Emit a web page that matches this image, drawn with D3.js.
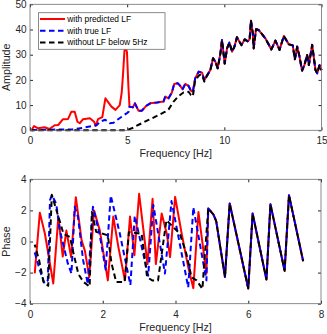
<!DOCTYPE html>
<html>
<head>
<meta charset="utf-8">
<script src="https://cdn.jsdelivr.net/npm/d3@7.9.0/dist/d3.min.js"></script>
<style>
  body { margin: 0; background: #fff; }
  svg { display: block; font-family: "Liberation Sans", Arial, sans-serif; }
  .tick text { fill: #262626; font-size: 10px; }
  .tick line { stroke: #262626; }
</style>
</head>
<body>
<svg id="chart" width="327" height="334"></svg>
<script>
// ---- amplitude spectrum (top) ----
const commonF = [9.1, 9.28, 9.42, 9.54, 9.66, 9.8, 9.88, 10.02, 10.14, 10.26, 10.4, 10.52, 10.65, 10.88, 11.05, 11.2, 11.3, 11.37, 11.46, 11.51, 11.63, 11.77, 12.11, 12.42, 12.63, 12.84, 13.06, 13.32, 13.52, 13.63, 13.75, 13.87, 14.0, 14.12, 14.26, 14.35, 14.52, 14.69, 14.78, 14.9, 15.0];
const commonA = [21.6, 23.9, 28.6, 27.2, 24.6, 30.6, 35.8, 26.5, 32.5, 34.8, 31.2, 33.2, 36.9, 33.8, 36.1, 35.3, 36.1, 43.5, 38.8, 32.5, 40.1, 39.8, 36.5, 32.1, 35.6, 31.9, 37.4, 34.1, 33.7, 28.2, 33.2, 29.2, 23.7, 25.9, 29.9, 25.9, 33.9, 23.9, 22.6, 25.9, 23.9];

const predF = [0.09, 0.21, 0.41, 0.75, 1.0, 1.27, 1.45, 1.7, 1.96, 2.13, 2.3, 2.44, 2.56, 2.73, 3.08, 3.3, 3.38, 3.5, 3.72, 3.88, 4.19, 4.4, 4.62, 4.72, 4.79, 4.86, 4.92, 4.99, 5.06, 5.12, 5.29, 5.4, 5.58, 5.76, 5.98, 6.19, 6.53, 6.87, 6.96, 7.13, 7.3, 7.42, 7.6, 7.73, 7.85, 7.99, 8.16, 8.28, 8.38, 8.5, 8.68, 8.85, 8.97];
const predA = [0.2, 1.7, 0.8, 1.2, 0.5, 2.0, 2.1, 4.4, 4.5, 7.4, 7.4, 3.4, 2.8, 4.4, 4.8, 3.4, 1.7, 4.4, 5.2, 12.7, 9.4, 8.1, 10.0, 15.0, 22.6, 31.5, 33.0, 31.0, 18.0, 9.4, 9.1, 10.7, 7.8, 7.8, 9.7, 10.7, 11.0, 11.4, 13.4, 12.7, 15.0, 18.4, 18.7, 17.6, 16.3, 18.4, 17.6, 15.7, 15.3, 20.6, 23.3, 22.9, 20.0];

const trueLowF = [0.09, 2.2, 2.75, 3.18, 3.44, 3.6, 3.87, 4.1, 4.3, 4.5, 4.72, 4.97, 5.07];
const trueLowA = [0.1, 0.4, 1.0, 1.7, 2.1, 3.4, 4.2, 2.8, 3.0, 4.2, 5.4, 6.7, 7.3];

const noLfF = [0.09, 4.95, 5.24, 5.67, 6.1, 6.53, 6.96, 7.13, 7.39, 7.65, 7.9, 8.16, 8.28, 8.38, 8.5, 8.73, 8.85, 8.97];
const noLfA = [0, 0, 0.8, 2.5, 4.1, 5.7, 7.4, 8.3, 11.4, 13.6, 15.0, 15.3, 14.0, 13.4, 20.0, 22.0, 22.0, 19.3];

// ---- phase (bottom) ----
const tailF = [4.9, 5.04, 5.12, 5.36, 5.49, 6.0, 6.12, 6.5, 6.61, 7.0, 7.12, 7.51];
const tailP = [2.12, 1.75, 1.3, -2.28, 2.44, -3.02, 1.8, -2.45, 2.4, -1.89, 2.98, -1.27];

const phRedF = [0.13, 0.27, 0.41, 0.64, 0.78, 0.9, 1.0, 1.13, 1.26, 1.42, 1.51, 1.63, 1.76, 1.92, 2.14, 2.29, 2.43, 2.61, 2.75, 2.87, 3.0, 3.23, 3.37, 3.46, 3.62, 3.76, 3.85, 3.99, 4.17, 4.35, 4.49, 4.63, 4.85];
const phRed = [-2.05, 1.85, 0.5, -2.7, 1.6, -0.97, 0.7, -1.0, 2.85, 0.06, -0.6, -2.3, 2.0, 0.7, -2.5, 1.6, -0.36, -2.5, 1.6, -0.88, 3.07, -1.45, 2.75, -1.45, 1.8, 0.5, -1.0, 2.87, 0.5, -1.65, -3.0, 1.9, -2.06];

const phTrueF = [0.13, 0.27, 0.4, 0.49, 0.55, 0.6, 0.72, 0.82, 1.04, 1.14, 1.23, 1.32, 1.46, 1.59, 1.73, 1.91, 2.08, 2.22, 2.47, 2.76, 2.88, 3.25, 3.39, 3.71, 3.89, 4.35, 4.49, 4.85];
const phTrue = [-0.7, -1.85, -2.7, -2.5, 2.66, 2.98, 2.44, 0.73, -1.41, -2.06, 2.23, 1.58, -1.2, -2.75, 2.23, 0.51, -1.8, 2.96, 0.5, -2.8, 1.65, -2.2, 2.35, -2.06, 2.6, -2.95, 2.2, -2.5];

const phNoLfF = [0.13, 0.25, 0.37, 0.5, 0.6, 0.78, 0.92, 1.1, 1.2, 1.33, 1.47, 1.64, 1.7, 1.82, 2.14, 2.24, 2.37, 2.6, 2.72, 3.07, 3.22, 3.36, 3.52, 3.75, 4.12, 4.3, 4.44, 4.58, 4.74];
const phNoLf = [-0.2, -1.2, -2.6, -2.85, 3.0, 1.6, 0.5, 0.28, -0.8, -2.1, -2.6, -2.9, 1.9, 0.62, 0.4, -1.4, -2.6, -2.6, 0.6, 0.5, -2.3, -2.5, -2.5, 1.37, 0.5, -0.8, -2.3, -2.5, -3.05];

const legendLabels = ['with predicted LF', 'with true LF', 'without LF below 5Hz'];
const colors = ['#ff0000', '#0000ff', '#000000'];
const dashes = [null, '5.5,3.5', '5.5,3.5'];

const svg = d3.select('#chart');

const zip = (fs, vs) => fs.map((f, i) => [f, vs[i]]);

function drawPanel(cfg) {
  const x = d3.scaleLinear().domain(cfg.xDomain).range([cfg.left, cfg.right]);
  const y = d3.scaleLinear().domain(cfg.yDomain).range([cfg.bottom, cfg.top]);
  const g = svg.append('g');

  g.append('rect')
    .attr('x', cfg.left).attr('y', cfg.top)
    .attr('width', cfg.right - cfg.left).attr('height', cfg.bottom - cfg.top)
    .attr('fill', '#fff');

  const line = d3.line().x(d => x(d[0])).y(d => y(d[1]));

  cfg.series.forEach((s, i) => {
    g.append('path')
      .attr('d', line(s))
      .attr('fill', 'none')
      .attr('stroke', colors[i])
      .attr('stroke-width', 2)
      .attr('stroke-linejoin', 'round')
      .attr('stroke-dasharray', dashes[i])
      .attr('stroke-dashoffset', i === 2 ? 2.5 : 0);
  });

  // axes, ticks pointing inward on all four sides
  const ax = (gen, tx, ty, labels) => {
    const a = g.append('g').attr('transform', `translate(${tx},${ty})`).call(gen);
    a.select('.domain').remove();
    if (!labels) a.selectAll('text').remove();
    return a;
  };
  ax(d3.axisBottom(x).tickValues(cfg.xTicks).tickSize(-3).tickSizeOuter(0).tickPadding(7), 0, cfg.bottom, true);
  ax(d3.axisTop(x).tickValues(cfg.xTicks).tickSize(-3).tickSizeOuter(0), 0, cfg.top, false);
  ax(d3.axisLeft(y).tickValues(cfg.yTicks).tickSize(-3).tickSizeOuter(0).tickPadding(3.5), cfg.left, 0, true);
  ax(d3.axisRight(y).tickValues(cfg.yTicks).tickSize(-3).tickSizeOuter(0), cfg.right, 0, false);

  g.append('rect')
    .attr('x', cfg.left).attr('y', cfg.top)
    .attr('width', cfg.right - cfg.left).attr('height', cfg.bottom - cfg.top)
    .attr('fill', 'none').attr('stroke', '#6e6e6e').attr('stroke-width', 0.8);

  g.append('text')
    .attr('x', (cfg.left + cfg.right) / 2).attr('y', cfg.bottom + 27)
    .attr('text-anchor', 'middle').attr('font-size', 10.7).attr('fill', '#262626')
    .text(cfg.xLabel);
  g.append('text')
    .attr('transform', `translate(10,${(cfg.top + cfg.bottom) / 2}) rotate(-90)`)
    .attr('text-anchor', 'middle').attr('font-size', 10.7).attr('fill', '#262626')
    .text(cfg.yLabel);
  return { g, x, y };
}

const predSeries = zip(predF, predA).concat(zip(commonF, commonA));
const trueSeries = zip(trueLowF, trueLowA)
  .concat(zip(predF, predA).filter(d => d[0] >= 5.12))
  .concat(zip(commonF, commonA));
const noLfSeries = zip(noLfF, noLfA).concat(zip(commonF, commonA));

const ampPanel = drawPanel({
  left: 30, right: 321.5, top: 4.3, bottom: 130.3,
  xDomain: [0, 15], yDomain: [0, 50],
  xTicks: [0, 5, 10, 15], yTicks: [0, 10, 20, 30, 40, 50],
  xLabel: 'Frequency [Hz]', yLabel: 'Amplitude',
  series: [predSeries, trueSeries, noLfSeries]
});

drawPanel({
  left: 30, right: 321, top: 179.3, bottom: 303.7,
  xDomain: [0, 8], yDomain: [-4, 4],
  xTicks: [0, 2, 4, 6, 8], yTicks: [-4, -2, 0, 2, 4],
  xLabel: 'Frequency [Hz]', yLabel: 'Phase',
  series: [
    zip(phRedF, phRed).concat(zip(tailF, tailP)),
    zip(phTrueF, phTrue).concat(zip(tailF, tailP)),
    zip(phNoLfF, phNoLf).concat(zip(tailF, tailP))
  ]
});

// legend
const lg = ampPanel.g.append('g');
lg.append('rect')
  .attr('x', 38.5).attr('y', 12.7).attr('width', 126.5).attr('height', 36.6)
  .attr('fill', '#fff').attr('stroke', '#6e6e6e').attr('stroke-width', 0.8);
legendLabels.forEach((lab, i) => {
  const yy = 19 + i * 11.7;
  lg.append('line')
    .attr('x1', 40).attr('x2', 65).attr('y1', yy).attr('y2', yy)
    .attr('stroke', colors[i]).attr('stroke-width', 2)
    .attr('stroke-dasharray', dashes[i]);
  lg.append('text')
    .attr('x', 67.3).attr('y', yy).attr('dy', '0.35em')
    .attr('font-size', 8.4).attr('fill', '#000')
    .text(lab);
});
</script>
</body>
</html>
